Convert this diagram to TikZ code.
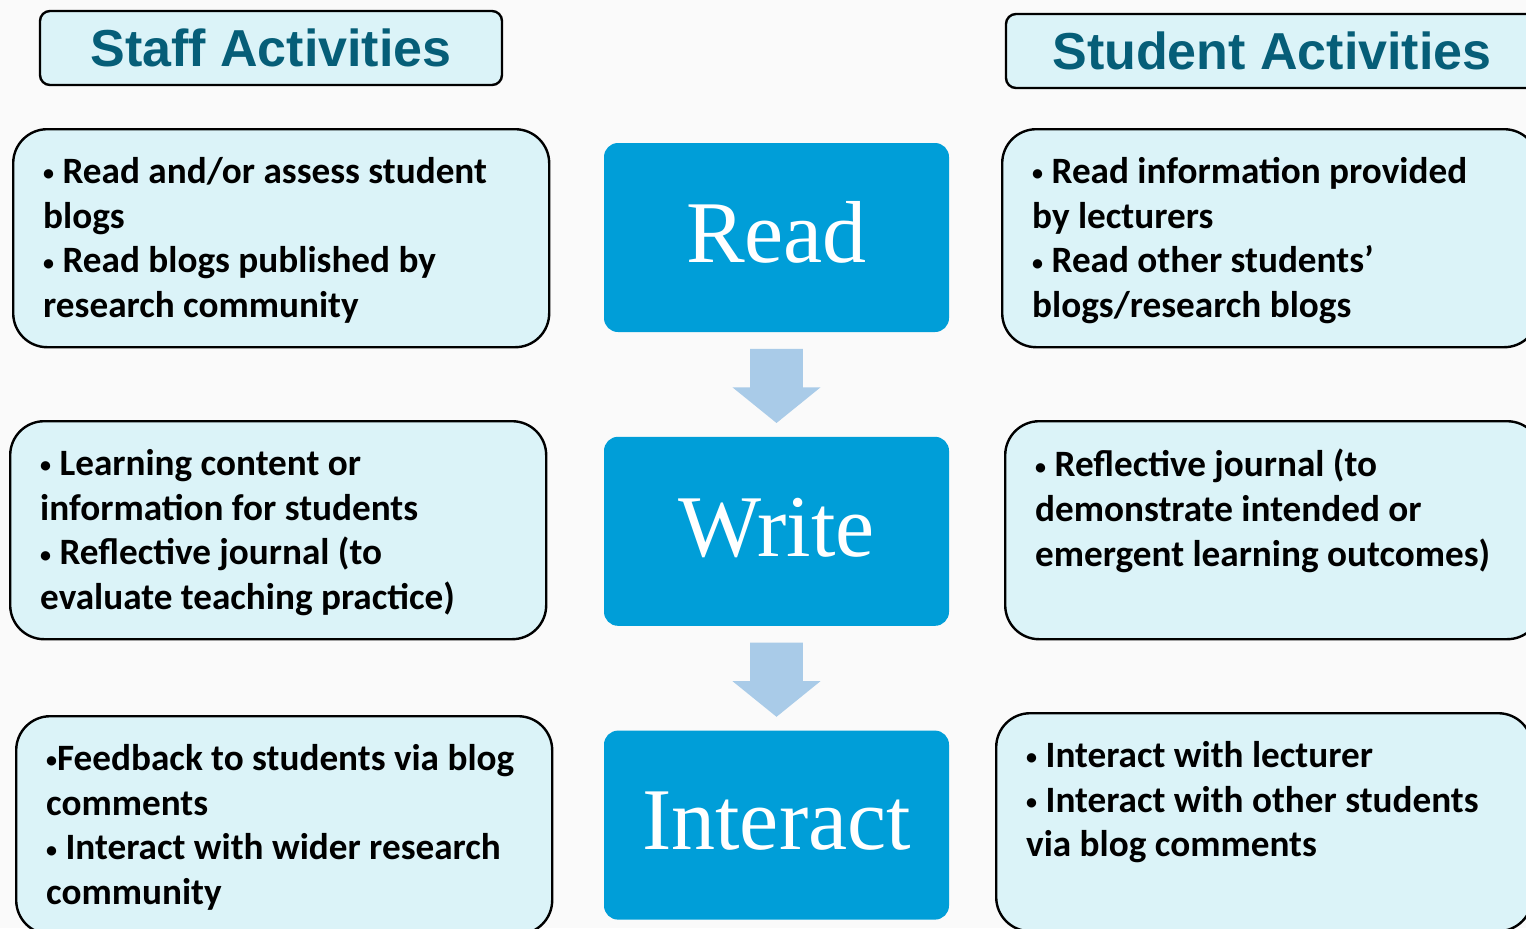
\documentclass[tikz,border=0pt]{standalone}
\usepackage{fontspec}
\setmainfont{Carlito}
\newfontfamily\headfont{Liberation Sans}
\newfontfamily\stepfont{Liberation Serif}
\usetikzlibrary{positioning,calc,shapes.arrows}
\definecolor{headteal}{RGB}{6,94,120}
\definecolor{paleaqua}{RGB}{219,243,248}
\definecolor{stepblue}{RGB}{0,158,216}
\definecolor{arrowblue}{RGB}{169,203,232}
\definecolor{pagebg}{RGB}{250,250,250}
\tikzset{
  headbox/.style={draw=black, line width=1.2pt, fill=paleaqua, rounded corners=5pt,
    minimum height=37pt, inner sep=0pt, text=headteal,
    font=\headfont\bfseries\fontsize{26}{30}\selectfont},
  actbox/.style={draw=black, line width=1.2pt, fill=paleaqua, rounded corners=17pt,
    inner xsep=15pt, inner ysep=0pt, anchor=north west,
    font=\bfseries\fontsize{18.6}{22.4}\selectfont},
  stepbox/.style={fill=stepblue, rounded corners=7pt, minimum width=172.5pt,
    minimum height=94.5pt, inner sep=0pt, text=white,
    font=\stepfont\fontsize{44}{50}\selectfont},
  flowarrow/.style={single arrow, shape border rotate=270, fill=arrowblue,
    minimum height=36pt, inner sep=13pt, single arrow head extend=8.75pt,
    single arrow tip angle=102, single arrow head indent=0pt}
}
% fixed-size, top aligned text block for the activity boxes
\newcommand{\acttext}[1]{\parbox[t][109pt][t]{238pt}{\raggedright\vspace*{14pt}#1}}
\newcommand{\bul}{{\fontsize{11}{11}\selectfont\raisebox{1.4pt}{•}}}

\begin{document}
\begin{tikzpicture}[x=0.5pt,y=0.5pt,yscale=-1]
\useasboundingbox (0,0) rectangle (1526,928);
\clip (0,0) rectangle (1526,928);
\fill[pagebg] (0,0) rectangle (1526,928);

% column headings
\node[headbox, minimum width=231pt] (staffhead) at (271,48) {Staff Activities};
\node[headbox, minimum width=266pt] (studhead) at (1272,51) {Student Activities};

% the three steps
\node[stepbox] (read) at (776.5,237.5) {\raisebox{6pt}{Read}};
\node[stepbox, below=52pt of read] (write) {\raisebox{4pt}{Write}};
\node[stepbox, below=52pt of write] (interact) {\raisebox{4pt}{Interact}};

\node[flowarrow, below=8pt of read, anchor=tail] (arr1) {};
\node[flowarrow, below=8pt of write, anchor=tail] (arr2) {};

% staff side
\node[actbox] (staffread) at (12,128) {\acttext{%
  \bul{} Read and/or assess student\\ blogs\\ \bul{} Read blogs published by\\ research community}};
\node[actbox] (staffwrite) at (9,420) {\acttext{%
  \bul{} Learning content or\\ information for students\\ \bul{} Reflective journal (to\\ evaluate teaching practice)}};
\node[actbox] (staffinter) at (15,715) {\acttext{%
  \bul Feedback to students via blog\\ comments\\ \bul{} Interact with wider research\\ community}};

% student side
\node[actbox] (studread) at (1001,128) {\acttext{%
  \bul{} Read information provided\\ by lecturers\\ \bul{} Read other students’\\ blogs/research blogs}};
\node[actbox] (studwrite) at (1004,420) {\acttext{%
  \bul{} Reflective journal (to\\ demonstrate intended or\\ emergent learning outcomes)}};
\node[actbox] (studinter) at (995,712) {\acttext{%
  \bul{} Interact with lecturer\\ \bul{} Interact with other students\\ via blog comments}};

\end{tikzpicture}
\end{document}
